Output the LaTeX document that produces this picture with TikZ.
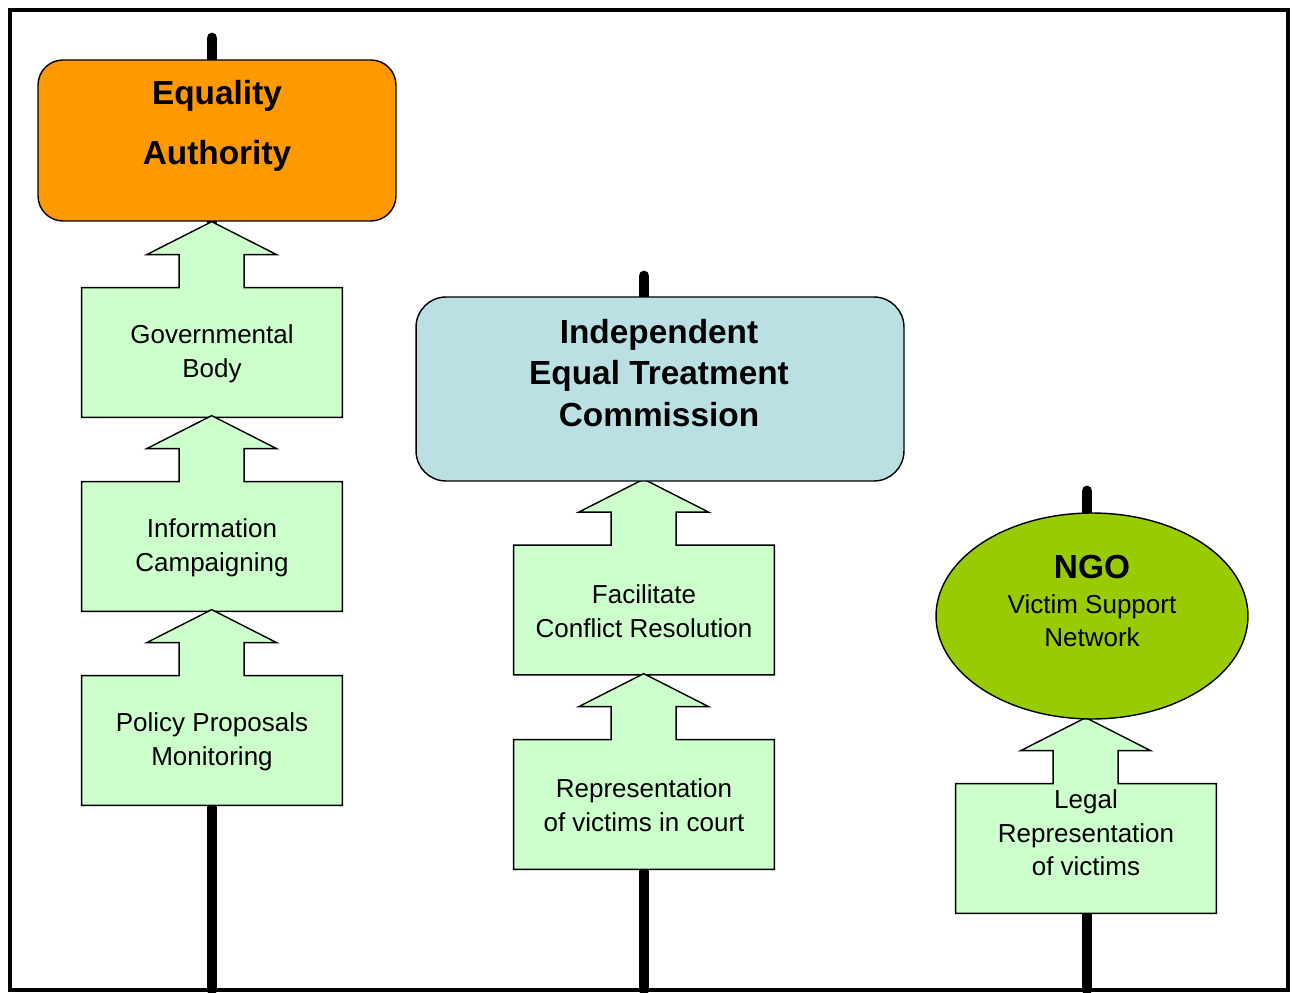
\documentclass[tikz,border=0pt]{standalone}
\usepackage{fontspec}
\setmainfont{Liberation Sans}
\usetikzlibrary{calc,backgrounds,shapes.geometric}
\definecolor{authorange}{HTML}{FF9900}
\definecolor{commblue}{HTML}{BBE0E3}
\definecolor{ngogreen}{HTML}{99CC00}
\definecolor{taskgreen}{HTML}{CCFFCC}

\begin{document}
\begin{tikzpicture}[x=0.02cm, y=0.02cm,
    taskbox/.style={minimum width=5.2cm, minimum height=2.58cm, inner sep=0pt,
      align=center, font=\fontsize{14.8}{19.2}\selectfont},
    taskarrow/.style={draw=black, line width=0.8pt, fill=taskgreen},
    orgbox/.style={draw=black, line width=0.8pt, rounded corners=0.5cm, inner sep=0pt},
    orgtext/.style={align=center, font=\fontsize{19}{34}\bfseries\selectfont},
    pole/.style={line width=6.2pt, line cap=round}
  ]
  \useasboundingbox (0,0) rectangle (1292,992);

  % Equality Authority column
  \node[orgbox, fill=authorange, minimum width=7.16cm, minimum height=3.22cm] (ea) at (217,851.5) {};
  \node[orgtext] (ea-t) at ($(ea)+(0,14.5)$) {Equality\\Authority};
  \node[taskbox] (gb) at (212,638.5) {Governmental\\Body};
  \node[taskbox] (ic) at (212,444.5) {Information\\Campaigning};
  \node[taskbox] (pp) at (212,250.5) {Policy Proposals\\Monitoring};

  % Commission column
  \node[orgbox, fill=commblue, minimum width=9.76cm, minimum height=3.68cm, rounded corners=0.6cm] (ie) at (660,603) {};
  \node[orgtext, font=\fontsize{19}{23.5}\bfseries\selectfont] (ie-t) at ($(ie)+(-1,16)$)
    {Independent\\Equal Treatment\\Commission};
  \node[taskbox] (fc) at (644,381) {Facilitate\\Conflict Resolution};
  \node[taskbox] (rc) at (644,186.5) {Representation\\of victims in court};

  % NGO column
  \node[ellipse, draw=black, line width=0.8pt, fill=ngogreen, minimum width=6.24cm,
    minimum height=4.12cm, inner sep=0pt] (ngo) at (1092,376) {};
  \node[align=center, font=\fontsize{14.8}{18.7}\selectfont] (ngo-t) at ($(ngo)+(0,15)$)
    {{\fontsize{19}{21}\bfseries\selectfont NGO}\\[1pt]Victim Support\\Network};
  \node[taskbox] (lr) at (1086,142.5) {Legal\\Representation\\of victims\\\mbox{}};

  \coordinate (ea-top) at (212,954);   \coordinate (ea-foot) at (212,2);
  \coordinate (ie-top) at (644,716);   \coordinate (ie-foot) at (644,2);
  \coordinate (ngo-top) at (1087,501); \coordinate (ngo-foot) at (1087,2);

  \begin{scope}[on background layer]
    \draw[pole] (ea-top) -- (ea-foot);
    \draw[pole] (ie-top) -- (ie-foot);
    \draw[pole] (ngo-top) -- (ngo-foot);
    \foreach \n in {gb,ic,pp,fc,rc,lr}
      \draw[taskarrow] ($(\n.south west)+(0,1)$) -- ($(\n.north west)+(0,1)$) -- ++(97.5,0) -- ++(0,33)
        -- ++(-32.5,0) -- ++(65,33) -- ++(65,-33) -- ++(-32.5,0) -- ++(0,-33)
        -- ($(\n.north east)+(0,1)$) -- ($(\n.south east)+(0,1)$) -- cycle;
  \end{scope}

  \draw[line width=2.5pt] (10,2) rectangle (1288,982);
\end{tikzpicture}
\end{document}
